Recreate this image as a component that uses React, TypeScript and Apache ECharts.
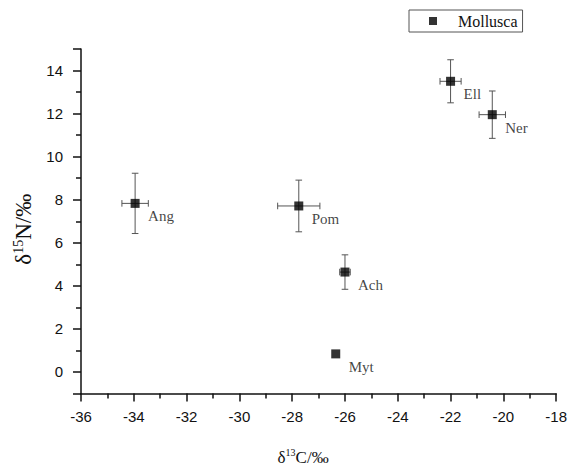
import React, { useEffect, useRef } from 'react';
import * as echarts from 'echarts';

// ---- data ----
const taxa = ['Ang', 'Pom', 'Ach', 'Myt', 'Ell', 'Ner'];
const d13C = [-33.95, -27.75, -26.0, -26.35, -22.0, -20.42];
const d15N = [7.83, 7.71, 4.64, 0.84, 13.5, 11.95];
const sdC = [0.5, 0.8, 0.2, 0, 0.4, 0.5];
const sdN = [1.4, 1.2, 0.8, 0, 1.0, 1.1];
const seriesName = 'Mollusca';
const xRange = [-36, -18];
const xStep = 2;
const yRange = [-1, 15];
const ySplits = 8;

const SERIF = 'Liberation Serif';
const SANS = 'Liberation Sans';
const AXIS = '#111';
const ERR = '#555';

export default function App() {
  const ref = useRef<HTMLDivElement>(null);
  useEffect(() => {
    if (!ref.current) return;
    const chart = echarts.init(ref.current, undefined, { renderer: 'svg' });
    const pts = taxa.map((t, i) => [d13C[i], d15N[i], t]);
    const errs = taxa.map((_, i) => [d13C[i], d15N[i], sdC[i], sdN[i]]);
    const axisCommon = {
      type: 'value' as const,
      splitLine: { show: false },
      minorSplitLine: { show: false },
      axisLine: { show: true, onZero: false, lineStyle: { color: AXIS, width: 1.5 } },
      axisTick: { show: true, inside: false, length: 8, lineStyle: { color: AXIS, width: 1.5 } },
      minorTick: { show: true, splitNumber: 2, length: 5, lineStyle: { color: AXIS, width: 1.5 } },
    };
    chart.setOption({
      animation: false,
      backgroundColor: '#fff',
      grid: { left: 81, right: 13, top: 49, bottom: 71, containLabel: false },
      legend: {
        data: [{ name: seriesName, icon: 'rect' }],
        left: 409,
        top: 10,
        padding: [3, 5, 3, 20],
        borderColor: '#555',
        borderWidth: 1,
        itemWidth: 8,
        itemHeight: 8,
        selectedMode: false,
        formatter: (name: string) => `{m|${name}}`,
        textStyle: {
          fontFamily: SERIF,
          fontSize: 16,
          color: '#111',
          rich: {
            m: { fontFamily: SERIF, fontSize: 16, fontWeight: 'normal', color: '#111', padding: [0, 0, 0, 16] },
          },
        },
      },
      xAxis: {
        ...axisCommon,
        min: xRange[0],
        max: xRange[1],
        interval: xStep,
        name: '{d|δ}{s|13}{d|C/‰}',
        nameLocation: 'middle',
        nameGap: 54,
        nameTextStyle: {
          padding: [0, 31, 0, 0],
          rich: {
            d: { fontFamily: SERIF, fontSize: 17, lineHeight: 20, color: '#111' },
            s: { fontFamily: SERIF, fontSize: 10, lineHeight: 12, verticalAlign: 'top', color: '#111' },
          },
        },
        axisLabel: { fontFamily: SANS, fontSize: 15, color: '#111', margin: 15 },
      },
      yAxis: {
        ...axisCommon,
        min: yRange[0],
        max: yRange[1],
        splitNumber: ySplits,
        name: '{d|δ}{s|15}{d|N/‰}',
        nameLocation: 'middle',
        nameGap: 42,
        nameTextStyle: {
          padding: [0, 16, 0, 0],
          rich: {
            d: { fontFamily: SERIF, fontSize: 23, lineHeight: 24, color: '#111' },
            s: { fontFamily: SERIF, fontSize: 14, lineHeight: 14, verticalAlign: 'top', color: '#111' },
          },
        },
        axisLabel: {
          fontFamily: SANS,
          fontSize: 15,
          color: '#111',
          margin: 18,
          showMinLabel: false,
          showMaxLabel: false,
        },
      },
      series: [
        {
          type: 'custom',
          name: 'errorbars',
          data: errs,
          encode: { x: 0, y: 1 },
          z: 1,
          silent: true,
          renderItem: (_params: any, api: any) => {
            const x = api.value(0);
            const y = api.value(1);
            const ex = api.value(2);
            const ey = api.value(3);
            const style = { stroke: ERR, lineWidth: 1, fill: null };
            const cap = 3.3;
            const children: any[] = [];
            if (ey > 0) {
              const a = api.coord([x, y + ey]);
              const b = api.coord([x, y - ey]);
              children.push({ type: 'line', shape: { x1: a[0], y1: a[1], x2: b[0], y2: b[1] }, style });
              children.push({ type: 'line', shape: { x1: a[0] - cap, y1: a[1], x2: a[0] + cap, y2: a[1] }, style });
              children.push({ type: 'line', shape: { x1: b[0] - cap, y1: b[1], x2: b[0] + cap, y2: b[1] }, style });
            }
            if (ex > 0) {
              const a = api.coord([x - ex, y]);
              const b = api.coord([x + ex, y]);
              children.push({ type: 'line', shape: { x1: a[0], y1: a[1], x2: b[0], y2: b[1] }, style });
              children.push({ type: 'line', shape: { x1: a[0], y1: a[1] - cap, x2: a[0], y2: a[1] + cap }, style });
              children.push({ type: 'line', shape: { x1: b[0], y1: b[1] - cap, x2: b[0], y2: b[1] + cap }, style });
            }
            return { type: 'group', children };
          },
        },
        {
          type: 'scatter',
          name: seriesName,
          data: pts,
          symbol: 'rect',
          symbolSize: 9,
          z: 3,
          itemStyle: { color: '#000' },
          label: {
            show: true,
            position: 'right',
            distance: 8.5,
            offset: [0, 13],
            formatter: (p: any) => p.data[2],
            fontFamily: SERIF,
            fontSize: 15,
            color: '#111',
          },
        },
      ],
    });
    return () => chart.dispose();
  }, []);
  return (
    <div
      ref={ref}
      style={{ position: 'fixed', left: 0, top: 0, width: 570, height: 471, background: '#fff' }}
    />
  );
}
